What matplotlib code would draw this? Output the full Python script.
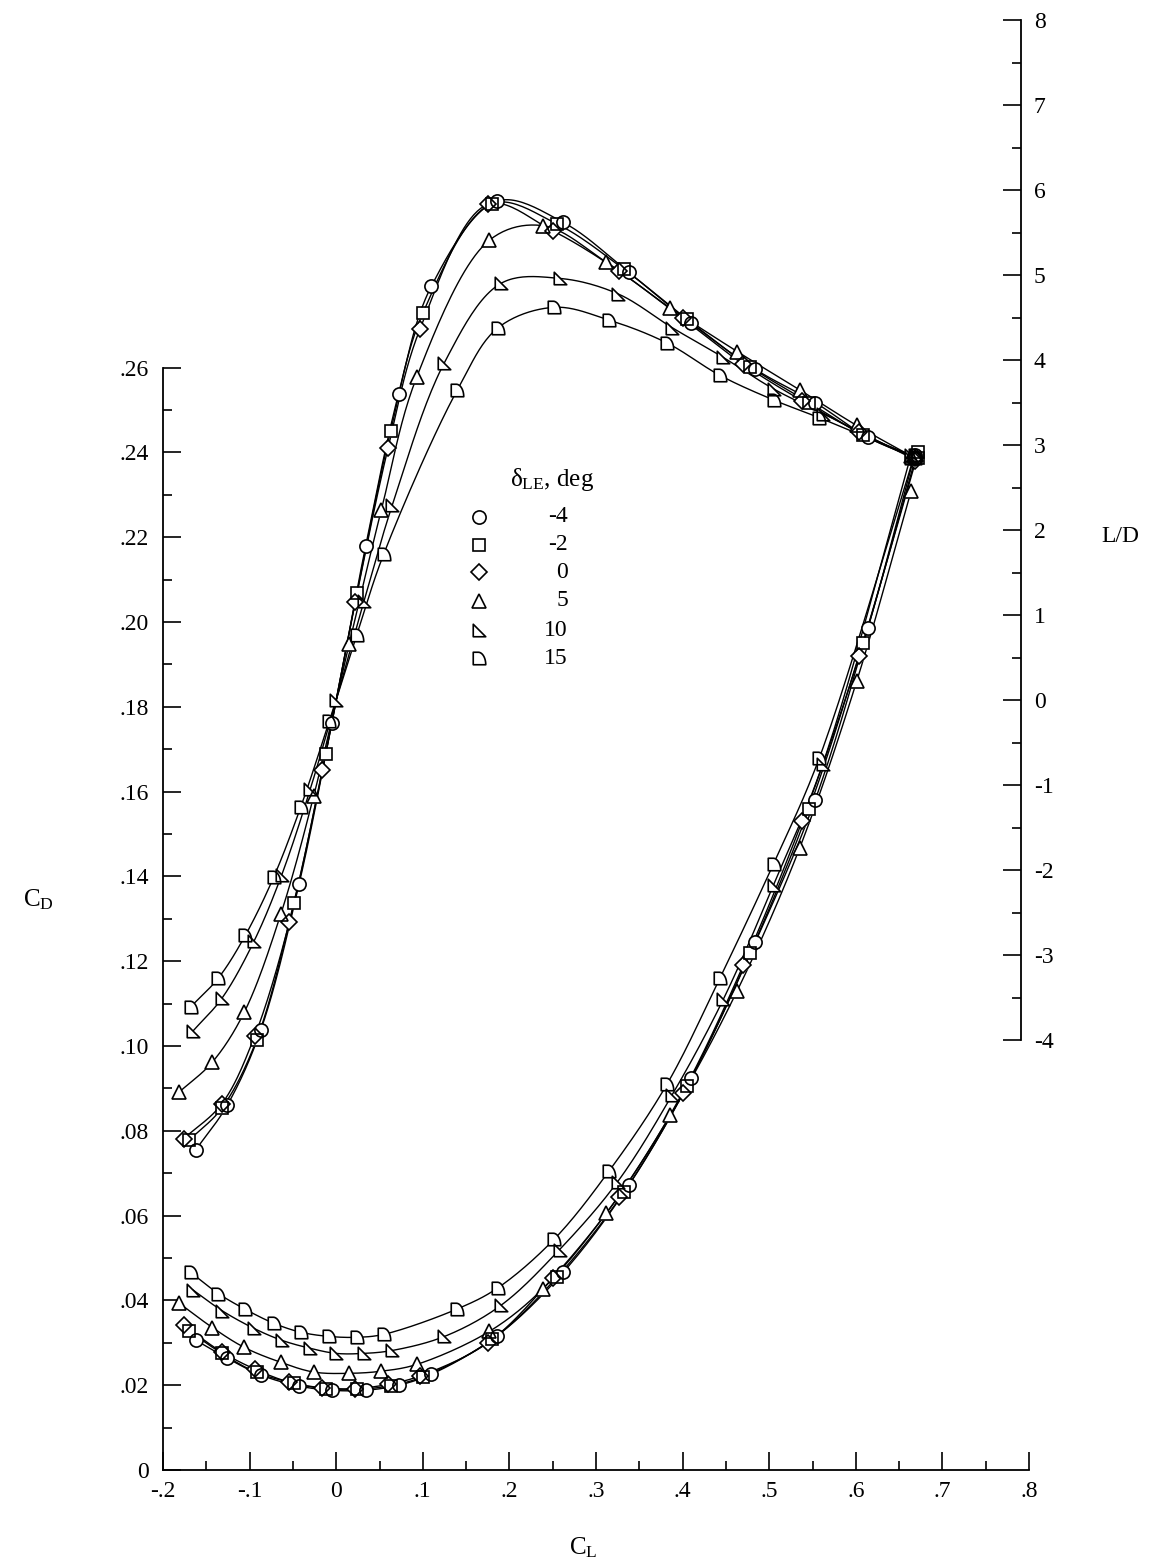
import numpy as np
import matplotlib
matplotlib.use('Agg')
import matplotlib.pyplot as plt
from matplotlib.path import Path
from matplotlib.lines import Line2D

plt.rcParams['font.family'] = ['Liberation Serif', 'DejaVu Serif']
plt.rcParams['mathtext.default'] = 'regular'

# leading-edge flap deflections, deg
deflections = ['-4', '-2', '0', '5', '10', '15']

# delta_LE = -4
cl_m4 = [-.162, -.126, -.087, -.043, -.005, .034, .072, .110, .186, .262, .338, .410, .484, .553, .614, .668]
cd_m4 = [.0306, .0264, .0224, .0198, .0188, .0188, .0200, .0226, .0317, .0466, .0672, .0925, .1245, .1580, .1985, .2395]
ld_m4 = [-5.29, -4.77, -3.88, -2.17, -.27, 1.81, 3.60, 4.87, 5.87, 5.62, 5.03, 4.43, 3.89, 3.50, 3.09, 2.85]

# delta_LE = -2
cl_m2 = [-.170, -.132, -.092, -.049, -.012, .024, .063, .100, .180, .255, .332, .405, .478, .546, .608, .672]
cd_m2 = [.0328, .0275, .0230, .0205, .0191, .0190, .0199, .0220, .0308, .0455, .0655, .0905, .1220, .1560, .1950, .2400]
ld_m2 = [-5.18, -4.80, -4.00, -2.39, -.63, 1.26, 3.17, 4.55, 5.84, 5.60, 5.07, 4.48, 3.92, 3.50, 3.12, 2.85]

# delta_LE = 0
cl_0 = [-.176, -.132, -.094, -.054, -.016, .022, .060, .097, .175, .250, .326, .400, .470, .538, .604, .668]
cd_0 = [.0341, .0278, .0238, .0207, .0194, .0192, .0202, .0222, .0300, .0453, .0645, .0890, .1190, .1530, .1920, .2380]
ld_0 = [-5.16, -4.75, -3.95, -2.61, -.82, 1.15, 2.97, 4.37, 5.83, 5.52, 5.05, 4.49, 3.95, 3.52, 3.15, 2.85]

# delta_LE = 5
cl_5 = [-.181, -.143, -.106, -.064, -.026, .015, .052, .093, .177, .239, .312, .386, .463, .535, .601, .664]
cd_5 = [.0393, .0336, .0289, .0254, .0231, .0228, .0233, .0249, .0327, .0428, .0606, .0837, .1130, .1466, .1860, .2310]
ld_5 = [-4.61, -4.26, -3.67, -2.52, -1.13, .66, 2.23, 3.80, 5.41, 5.58, 5.15, 4.61, 4.10, 3.65, 3.23, 2.87]

# delta_LE = 10
cl_10 = [-.165, -.132, -.095, -.063, -.030, .000, .032, .065, .125, .190, .258, .325, .388, .447, .505, .562, .664]
cd_10 = [.0424, .0376, .0334, .0306, .0287, .0275, .0275, .0282, .0315, .0388, .0520, .0680, .0885, .1110, .1380, .1666, .2395]
ld_10 = [-3.89, -3.51, -2.84, -2.06, -1.05, 0.0, 1.16, 2.30, 3.97, 4.90, 4.96, 4.78, 4.38, 4.03, 3.66, 3.37, 2.85]

# delta_LE = 15
cl_15 = [-.168, -.136, -.105, -.072, -.041, -.008, .024, .055, .140, .187, .252, .315, .382, .443, .505, .558, .668]
cd_15 = [.0466, .0416, .0379, .0346, .0325, .0315, .0313, .0320, .0380, .0430, .0545, .0705, .0910, .1160, .1430, .1680, .2395]
ld_15 = [-3.61, -3.27, -2.77, -2.08, -1.26, -.25, .77, 1.72, 3.65, 4.38, 4.62, 4.47, 4.20, 3.82, 3.53, 3.32, 2.85]

all_cl = [cl_m4, cl_m2, cl_0, cl_5, cl_10, cl_15]
all_cd = [cd_m4, cd_m2, cd_0, cd_5, cd_10, cd_15]
all_ld = [ld_m4, ld_m2, ld_0, ld_5, ld_10, ld_15]

# custom marker shapes
rtri = Path([(-1, -1), (-1, 1), (1, -1), (-1, -1)],
            [Path.MOVETO, Path.LINETO, Path.LINETO, Path.CLOSEPOLY])
th = np.linspace(np.pi / 2, 0, 20)
arc = np.column_stack([-0.2 + 1.2 * np.cos(th), -1 + 2 * np.sin(th)])
dverts = np.vstack([[(-1, -1), (-1, 1)], arc, [(-1, -1)]])
dshape = Path(dverts, [Path.MOVETO] + [Path.LINETO] * (len(dverts) - 2) + [Path.CLOSEPOLY])

markers = ['o', 's', 'D', '^', rtri, dshape]
msizes = [9.5, 8.5, 8.5, 10, 9, 9]


def smooth(x, y, n=24):
    # centripetal Catmull-Rom through the points
    P = np.column_stack([x, y])
    P = np.vstack([2 * P[0] - P[1], P, 2 * P[-1] - P[-2]])
    out = []
    for i in range(1, len(P) - 2):
        p0, p1, p2, p3 = P[i - 1], P[i], P[i + 1], P[i + 2]
        t0 = 0.0
        t1 = t0 + max(np.linalg.norm(p1 - p0), 1e-6) ** 0.5
        t2 = t1 + max(np.linalg.norm(p2 - p1), 1e-6) ** 0.5
        t3 = t2 + max(np.linalg.norm(p3 - p2), 1e-6) ** 0.5
        t = np.linspace(t1, t2, n)[:, None]
        A1 = (t1 - t) / (t1 - t0) * p0 + (t - t0) / (t1 - t0) * p1
        A2 = (t2 - t) / (t2 - t1) * p1 + (t - t1) / (t2 - t1) * p2
        A3 = (t3 - t) / (t3 - t2) * p2 + (t - t2) / (t3 - t2) * p3
        B1 = (t2 - t) / (t2 - t0) * A1 + (t - t0) / (t2 - t0) * A2
        B2 = (t3 - t) / (t3 - t1) * A2 + (t - t1) / (t3 - t1) * A3
        out.append((t2 - t) / (t2 - t1) * B1 + (t - t1) / (t2 - t1) * B2)
    out = np.vstack(out)
    return out[:, 0], out[:, 1]


W, H = 1151, 1564
fig = plt.figure(figsize=(W / 100, H / 100), dpi=100)
ax = fig.add_axes([163 / W, 94 / H, 866 / W, 1460 / H])
ax.set_xlim(-.2, .8)
ax.set_ylim(0, 1460 / 4240)
ax2 = ax.twinx()
ax2.set_ylim(-770 / 85, 690 / 85)

sx, s_cd, s_ld = 866.0, 4240.0, 85.0

# lines
for cl, cd, ld in zip(all_cl, all_cd, all_ld):
    cl = np.array(cl); cd = np.array(cd); ld = np.array(ld)
    xs, ys = smooth(cl * sx, cd * s_cd)
    ax.plot(xs / sx, ys / s_cd, color='black', lw=1.0, zorder=2, clip_on=False)
    xs, ys = smooth(cl * sx, ld * s_ld)
    ax.plot(xs / sx, ys / s_ld, color='black', lw=1.0, zorder=2, clip_on=False,
            transform=ax2.transData)

# white under-fill so the lines stop at the symbols
for cl, cd, ld, m, ms in zip(all_cl, all_cd, all_ld, markers, msizes):
    for yv, tr in ((cd, ax.transData), (ld, ax2.transData)):
        ax.plot(cl, yv, ls='none', marker=m, ms=ms, mfc='white', mec='none',
                zorder=3, clip_on=False, transform=tr)
# hollow symbols
for cl, cd, ld, m, ms in zip(all_cl, all_cd, all_ld, markers, msizes):
    for yv, tr in ((cd, ax.transData), (ld, ax2.transData)):
        ax.plot(cl, yv, ls='none', marker=m, ms=ms, mfc='none', mec='black',
                mew=1.2, zorder=4, clip_on=False, transform=tr)

# axes styling
for s in ['top', 'right']:
    ax.spines[s].set_visible(False)
for s in ['top', 'left', 'bottom']:
    ax2.spines[s].set_visible(False)
ax.spines['left'].set_bounds(0, .26)
ax2.spines['right'].set_bounds(-4, 8)
ax2.spines['right'].set_position(('axes', 0.991))
for sp in list(ax.spines.values()) + list(ax2.spines.values()):
    sp.set_linewidth(1.3)

xt = np.round(np.arange(-.2, .81, .1), 2)
ax.set_xticks(xt)
ax.set_xticks(np.round(np.arange(-.15, .8, .1), 2), minor=True)
ax.set_xticklabels(['0' if abs(v) < 1e-9 else ('%.1f' % v).replace('0.', '.') for v in xt])

yt = np.round(np.arange(0, .261, .02), 2)
ax.set_yticks(yt)
ax.set_yticks(np.round(np.arange(.01, .26, .02), 2), minor=True)
ax.set_yticklabels(['0' if v == 0 else ('%.2f' % v).replace('0.', '.') for v in yt])

rt = np.arange(-4, 9)
ax2.set_yticks(rt)
ax2.set_yticks(np.arange(-3.5, 8, 1.0), minor=True)
ax2.set_yticklabels([str(v) for v in rt])

ax.tick_params(which='major', direction='in', length=13, width=1.2, labelsize=17, pad=10)
ax.tick_params(which='minor', direction='in', length=6.5, width=1.2)
ax.tick_params(axis='x', pad=8)
ax2.tick_params(which='major', direction='in', length=13, width=1.2, labelsize=17, pad=9)
ax2.tick_params(which='minor', direction='in', length=6.5, width=1.2)

# axis titles
fig.text(38 / W, 1 - 900 / H, '$C_D$', fontsize=18, ha='center', va='center')
fig.text(583 / W, 1 - 1548 / H, '$C_L$', fontsize=18, ha='center', va='center')
fig.text(1120 / W, 1 - 537 / H, 'L/D', fontsize=17, ha='center', va='center')

# legend
fig.text(510 / W, 1 - 486 / H, r'δ$_{LE}$, deg', fontsize=18, ha='left', va='baseline')
leg_y = [517, 545, 572, 601, 630, 658]
for lab, m, ms, y in zip(deflections, markers, msizes, leg_y):
    fig.add_artist(Line2D([479 / W], [1 - y / H], ls='none', marker=m, ms=ms,
                          mfc='none', mec='black', mew=1.2, transform=fig.transFigure))
    fig.text(568 / W, 1 - y / H, lab, fontsize=17, ha='right', va='center')

fig.savefig('out.png', dpi=100)
